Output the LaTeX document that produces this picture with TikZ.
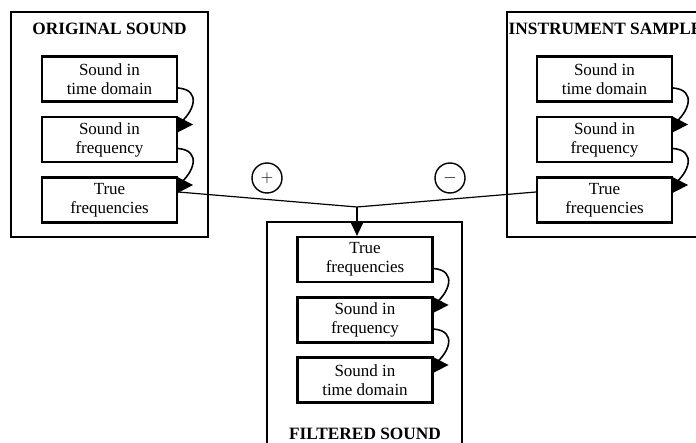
\documentclass[tikz,border=0pt]{standalone}
\usepackage{fontspec}
\setmainfont{Liberation Serif}
\usepackage{tikz}
\usetikzlibrary{arrows.meta}
\tikzset{every node/.append style={font=\fontsize{17}{19}\selectfont}}

\begin{document}
\begin{tikzpicture}[x=1pt,y=-1pt,>={Triangle[length=15pt,width=15pt]},
    stage/.style={draw,line width=2.2pt,minimum width=135pt,minimum height=45pt,
                  inner sep=0pt,align=center},
    panel/.style={draw,line width=2.2pt},
    title/.style={font=\fontsize{17.3}{19}\selectfont\bfseries},
    feed/.style={line width=1.2pt},
    hop/.style={line width=1.6pt,->},
    sign/.style={draw,circle,line width=1.4pt,minimum size=30pt,inner sep=0pt}]
  \useasboundingbox (0,0) rectangle (696,443);
  \clip (0,0) rectangle (696,443);
  % panels
  \draw[panel] (11,12) rectangle (208,237);
  \draw[panel] (507,12) rectangle (702,237);
  \draw[panel] (267,222) rectangle (462,458);
  \node[title] (otitle) at (109.5,29) {ORIGINAL SOUND};
  \node[title] (ititle) at (605.5,29) {INSTRUMENT SAMPLE};
  \node[title] (ftitle) at (365,434) {FILTERED SOUND};
  % stages
  \node[stage] (o1) at (109.5,79) {Sound in\\time domain};
  \node[stage] (o2) at (109.5,139.5) {Sound in\\frequency};
  \node[stage] (o3) at (109.5,200) {True\\frequencies};
  \node[stage] (i1) at (604.5,79) {Sound in\\time domain};
  \node[stage] (i2) at (604.5,139.5) {Sound in\\frequency};
  \node[stage] (i3) at (604.5,200) {True\\frequencies};
  \node[stage] (f1) at (365,259.5) {True\\frequencies};
  \node[stage] (f2) at (365,320) {Sound in\\frequency};
  \node[stage] (f3) at (365,380) {Sound in\\time domain};
  % hops between stages
  \foreach \a/\b in {o1/o2,o2/o3,i1/i2,i2/i3,f1/f2,f2/f3}
    \draw[hop] ([yshift=-9pt]\a.east) .. controls +(24,2) and +(16,-12)
      .. ([yshift=15pt]\b.east) -- +(15,0);
  % combining
  \node[sign] (plus) at (267,178) {$+$};
  \node[sign] (minus) at (450,178) {$-$};
  \coordinate (j) at (357,207);
  \draw[feed] ([yshift=8pt]o3.east) -- (j);
  \draw[feed] ([yshift=8pt]i3.west) -- (j);
  \draw[feed,-{Triangle[length=14pt,width=13pt]}] (j) -- (j |- f1.north);
\end{tikzpicture}
\end{document}
